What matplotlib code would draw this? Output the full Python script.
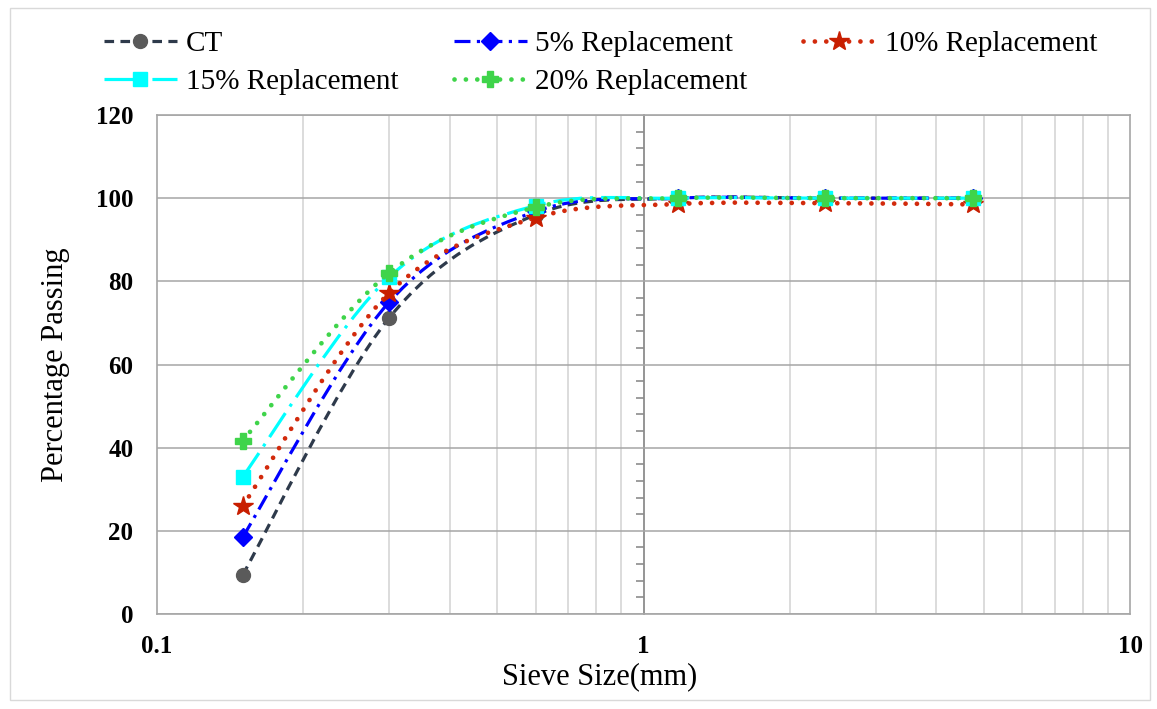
import matplotlib.pyplot as plt
import numpy as np
from matplotlib.path import Path
from matplotlib.patches import PathPatch, Rectangle
from matplotlib.lines import Line2D
from matplotlib.ticker import MultipleLocator, NullFormatter, LogLocator

plt.rcParams['font.family'] = ['Liberation Serif', 'DejaVu Serif']

# sieve sizes (mm) and percentage passing
sieve = [0.15, 0.3, 0.6, 1.18, 2.36, 4.75]
ct = [9.4, 71.2, 96.0, 100, 100, 100]
r5 = [18.5, 75.0, 96.8, 100, 100, 100]
r10 = [26.0, 77.2, 95.3, 98.6, 98.8, 98.5]
r15 = [33.0, 81.0, 98.2, 100, 100, 100]
r20 = [41.7, 82.0, 97.8, 100, 100, 100]

labels = ['CT', '5% Replacement', '10% Replacement', '15% Replacement', '20% Replacement']
series = [ct, r5, r10, r15, r20]

styles = [
    dict(color='#2E3A4B', ls=(0, (3, 2)), lw=2.3, cap='butt',
         marker='o', mc='#5A5A5A', ms=10),
    dict(color='#0000FF', ls=(0, (5, 2, 1, 2)), lw=2.3, cap='butt',
         marker='D', mc='#0000FF', ms=9),
    dict(color='#D22A0C', ls=(0, (0.01, 2.4)), lw=3.4, cap='round',
         marker='*', mc='#C81E00', ms=15),
    dict(color='#00FFFF', ls=(0, (9, 2.5, 1, 2.5)), lw=2.3, cap='butt',
         marker='s', mc='#00FFFF', ms=10),
    dict(color='#3FD44A', ls=(0, (0.01, 2.4)), lw=3.4, cap='round',
         marker='P', mc='#3FD44A', ms=12),
]


def smooth_path(xs, ys):
    # Excel-like smoothed line: Catmull-Rom bezier in (log x, y) space
    pts = np.column_stack([np.log10(xs), ys])
    n = len(pts)
    verts = [pts[0]]
    codes = [Path.MOVETO]
    for i in range(n - 1):
        p0 = pts[max(i - 1, 0)]
        p1 = pts[i]
        p2 = pts[i + 1]
        p3 = pts[min(i + 2, n - 1)]
        verts += [p1 + (p2 - p0) / 6, p2 - (p3 - p1) / 6, p2]
        codes += [Path.CURVE4] * 3
    verts = np.array(verts)
    verts[:, 0] = 10 ** verts[:, 0]
    return Path(verts, codes)


fig = plt.figure(figsize=(11.57, 7.09), dpi=100)
ax = fig.add_axes([157 / 1157, 1 - 614 / 709, 973 / 1157, 499 / 709])
ax.set_xscale('log')
ax.set_xlim(0.1, 10)
ax.set_ylim(0, 120)

# y axis line crossing at x = 1 with minor ticks
ax2 = ax.twinx()
ax2.set_ylim(0, 120)
for s in ['right', 'top', 'bottom']:
    ax2.spines[s].set_visible(False)
ax2.spines['left'].set_visible(True)
ax2.spines['left'].set_position(('data', 1))
ax2.spines['left'].set_color('#8C8C8C')
ax2.spines['left'].set_linewidth(1.3)
ax2.yaxis.set_ticks_position('left')
ax2.yaxis.set_major_locator(MultipleLocator(20))
ax2.yaxis.set_minor_locator(MultipleLocator(4))
ax2.tick_params(which='major', length=0, labelleft=False, labelright=False)
ax2.tick_params(which='minor', length=6, width=1.2, color='#8C8C8C', direction='out')
ax2.set_zorder(1)
ax.set_zorder(2)
ax.patch.set_visible(False)

ax.grid(which='major', axis='y', color='#A6A6A6', lw=1.1)
ax.xaxis.set_minor_locator(LogLocator(base=10, subs=np.arange(2, 10)))
ax.xaxis.set_minor_formatter(NullFormatter())
ax.grid(which='minor', axis='x', color='#D9D9D9', lw=1.3)
ax.set_axisbelow(True)
ax.set_xticks([0.1, 1, 10])
ax.set_xticklabels(['0.1', '1', '10'])
ax.yaxis.set_major_locator(MultipleLocator(20))
ax.tick_params(which='both', length=0)
ax.tick_params(axis='y', pad=17, labelsize=18)
ax.tick_params(axis='x', pad=15, labelsize=18)
for t in ax.get_xticklabels() + ax.get_yticklabels():
    t.set_fontweight('bold')
for s in ax.spines.values():
    s.set_color('#A6A6A6')
    s.set_linewidth(1.2)

handles = []
for k, (vals, st) in enumerate(zip(series, styles)):
    patch = PathPatch(smooth_path(sieve, vals), fill=False, edgecolor=st['color'],
                      linestyle=st['ls'], lw=st['lw'], capstyle=st['cap'],
                      zorder=3 + 2 * k)
    ax.add_patch(patch)
    ax.plot(sieve, vals, linestyle='none', marker=st['marker'], color=st['mc'],
            markersize=st['ms'], markeredgecolor=st['mc'], zorder=4 + 2 * k)
    handles.append(Line2D([], [], color=st['color'], linestyle=st['ls'], lw=st['lw'],
                          dash_capstyle=st['cap'], marker=st['marker'],
                          markerfacecolor=st['mc'], markeredgecolor=st['mc'],
                          markersize=st['ms']))

ax.set_ylabel('Percentage Passing', fontsize=22)
ax.set_xlabel('Sieve Size(mm)', fontsize=22)
ax.yaxis.set_label_coords(-0.089, 0.5)
ax.xaxis.set_label_coords(0.455, -0.097)

order = [0, 3, 1, 4, 2]
fig.legend([handles[i] for i in order], [labels[i] for i in order],
           loc='upper left', bbox_to_anchor=(104 / 1157, 1 - 31 / 709), ncol=3,
           frameon=False, fontsize=21, handlelength=2.5, handletextpad=0.3,
           columnspacing=1.9, labelspacing=0.38, borderpad=0, borderaxespad=0)

fig.patches.append(Rectangle((10 / 1157, 1 - 700 / 709), 1140 / 1157, 692 / 709,
                             transform=fig.transFigure, fill=False,
                             edgecolor='#D9D9D9', lw=1))

fig.savefig('out.png', dpi=100)
